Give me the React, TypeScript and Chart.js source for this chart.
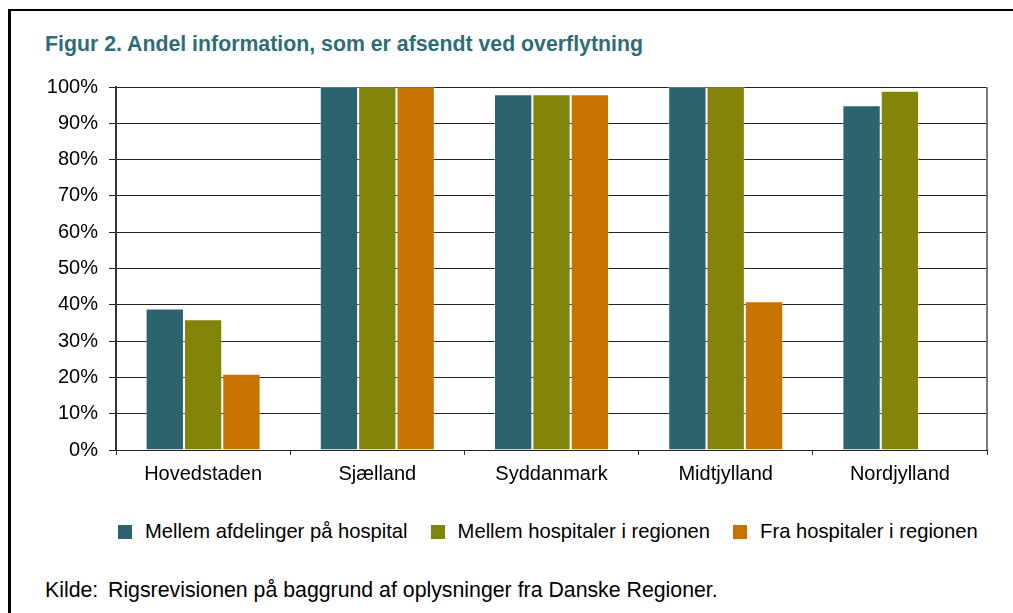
import React, { useEffect, useRef } from "react";
import { Chart, registerables } from "chart.js";

Chart.register(...registerables);

const categories = ["Hovedstaden", "Sjælland", "Syddanmark", "Midtjylland", "Nordjylland"];
const seriesNames = [
  "Mellem afdelinger på hospital",
  "Mellem hospitaler i regionen",
  "Fra hospitaler i regionen",
];
const afdelinger = [39, 100, 98, 100, 95];
const hospitaler = [36, 100, 98, 100, 99];
const fraHospitaler = [21, 100, 98, 41, 0];
const seriesColors = ["#2B636E", "#82850A", "#C87200"];
const yTicks = [0, 10, 20, 30, 40, 50, 60, 70, 80, 90, 100];

const FONT = "'Liberation Sans', Arial, sans-serif";

const rightBorder = {
  id: "rightBorder",
  afterDraw(chart: any) {
    const { ctx, chartArea } = chart;
    ctx.save();
    ctx.strokeStyle = "#7a7a7a";
    ctx.lineWidth = 2;
    ctx.beginPath();
    ctx.moveTo(chartArea.right, chartArea.top);
    ctx.lineTo(chartArea.right, chartArea.bottom);
    ctx.stroke();
    ctx.restore();
  },
};

export default function App() {
  const canvasRef = useRef<HTMLCanvasElement | null>(null);

  useEffect(() => {
    if (!canvasRef.current) return;
    const data = [afdelinger, hospitaler, fraHospitaler];
    const chart = new Chart(canvasRef.current, {
      type: "bar",
      data: {
        labels: categories,
        datasets: data.map((d, i) => ({
          label: seriesNames[i],
          data: d,
          backgroundColor: seriesColors[i],
          borderColor: "rgba(255,255,255,0.35)",
          borderWidth: 1,
          categoryPercentage: 0.66,
          barPercentage: 1,
        })),
      },
      options: {
        animation: false,
        responsive: false,
        maintainAspectRatio: false,
        layout: { padding: { left: 0, right: 26, top: 27, bottom: 10 } },
        plugins: {
          legend: { display: false },
          title: { display: false },
          tooltip: { enabled: false },
        },
        scales: {
          x: {
            offset: true,
            grid: {
              offset: true,
              drawOnChartArea: false,
              drawTicks: true,
              tickLength: 5,
              color: "#333",
            },
            border: { color: "#222", width: 1 },
            ticks: {
              color: "#000",
              font: { family: FONT, size: 20 },
              padding: 7,
            },
            afterFit: (scale: any) => {
              scale.height = 40;
            },
          },
          y: {
            min: 0,
            max: 100,
            afterBuildTicks: (scale: any) => {
              scale.ticks = yTicks.map((v) => ({ value: v }));
            },
            grid: {
              color: "#222",
              lineWidth: 1,
              tickLength: 7,
            },
            border: { color: "#333", width: 2 },
            ticks: {
              color: "#000",
              font: { family: FONT, size: 20 },
              padding: 11,
              callback: (v: any) => v + "%",
            },
            afterFit: (scale: any) => {
              scale.width = 116;
            },
          },
        },
      },
      plugins: [rightBorder],
    });
    return () => chart.destroy();
  }, []);

  return (
    <div
      style={{
        position: "absolute",
        left: 0,
        top: 0,
        width: 1013,
        height: 613,
        overflow: "hidden",
        background: "#fff",
        fontFamily: FONT,
      }}
    >
      <div
        style={{
          position: "absolute",
          left: 8,
          top: 9,
          width: 1100,
          height: 700,
          borderTop: "2px solid #000",
          borderLeft: "3px solid #000",
        }}
      />
      <div
        style={{
          position: "absolute",
          left: 45,
          top: 32,
          fontSize: 21.3,
          fontWeight: "bold",
          color: "#2E6D78",
          whiteSpace: "nowrap",
        }}
      >
        Figur 2. Andel information, som er afsendt ved overflytning
      </div>
      <canvas
        ref={canvasRef}
        width={1013}
        height={440}
        style={{ position: "absolute", left: 0, top: 60, width: 1013, height: 440 }}
      />
      <div
        style={{
          position: "absolute",
          left: 118,
          top: 520,
          display: "flex",
          alignItems: "center",
          fontSize: 20.2,
          color: "#000",
          whiteSpace: "nowrap",
        }}
      >
        {seriesNames.map((n, i) => (
          <div
            key={n}
            style={{ display: "flex", alignItems: "center", marginRight: 23 }}
          >
            <span
              style={{
                display: "inline-block",
                width: 14,
                height: 14,
                background: seriesColors[i],
                marginRight: 13,
              }}
            />
            <span>{n}</span>
          </div>
        ))}
      </div>
      <div
        style={{
          position: "absolute",
          left: 45,
          top: 578,
          fontSize: 21.3,
          color: "#000",
          whiteSpace: "nowrap",
        }}
      >
        <span style={{ display: "inline-block", width: 63 }}>Kilde:</span>
        Rigsrevisionen på baggrund af oplysninger fra Danske Regioner.
      </div>
    </div>
  );
}
